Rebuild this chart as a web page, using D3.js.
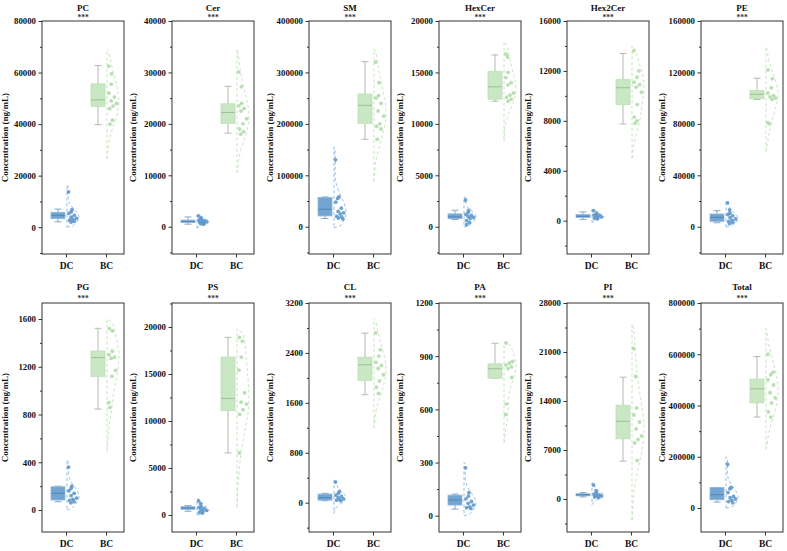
<!DOCTYPE html>
<html>
<head>
<meta charset="utf-8">
<script src="https://cdn.jsdelivr.net/npm/d3@7"></script>
<style>
  body { margin: 0; background: #fff; }
  svg text { font-family: "Liberation Serif", "Times New Roman", serif; font-weight: bold; }
</style>
</head>
<body>
<svg id="chart" width="787" height="551"></svg>
<script>
// lipid classes, one panel each
const lipids = ["PC", "Cer", "SM", "HexCer", "Hex2Cer", "PE", "PG", "PS", "CL", "PA", "PI", "Total"];
const groups = ["DC", "BC"];

// y axis range and major tick step per panel
const yRanges = [[-10400, 80000], [-5300, 40000], [-53000, 400000], [-2650, 20000], [-2670, 16000], [-21200, 160000],
                 [-184, 1734], [-1810, 22550], [-470, 3200], [-92, 1200], [-4714, 28000], [-93700, 800000]];
const tickSteps = [20000, 10000, 100000, 5000, 4000, 40000, 400, 5000, 800, 300, 7000, 200000];

// box stats: [lower whisker, q1, median, q3, upper whisker]
const boxDC = [[2100, 3300, 4600, 5800, 7000], [500, 800, 1000, 1300, 1900], [16000, 21000, 34000, 57000, 58000],
               [700, 780, 950, 1250, 1600], [100, 250, 350, 500, 700], [3100, 4200, 7300, 9900, 12500],
               [70, 84, 140, 195, 200], [400, 600, 750, 880, 1000], [30, 40, 80, 138, 150],
               [37, 60, 88, 116, 122], [300, 450, 600, 750, 900], [23000, 32000, 52000, 80000, 80000]];
const boxBC = [[39800, 46800, 49400, 55600, 62700], [18200, 20100, 22200, 23900, 27300], [170000, 201000, 236000, 258000, 321000],
               [12200, 12400, 13600, 15100, 16700], [7750, 9300, 10650, 11300, 13400], [99000, 99500, 103000, 106000, 115500],
               [846, 1117, 1277, 1332, 1522], [6600, 11100, 12400, 16800, 18900], [1730, 1960, 2210, 2332, 2716],
               [776, 776, 829, 857, 973], [5400, 8600, 11100, 13400, 17400], [355000, 410000, 465000, 503000, 591000]];

// individual samples
const pointsDC = [
  [13700, 6800, 6000, 5400, 4600, 3900, 3400, 3000, 2700, 2300, 2000],
  [2100, 1700, 1500, 1300, 1200, 1100, 1000, 900, 800, 700, 600, 500],
  [130000, 58000, 55000, 48000, 36000, 30000, 27000, 25000, 20000, 19000, 17000, 15000],
  [2600, 1600, 1400, 1200, 1100, 1000, 900, 800, 600, 400, 200],
  [800, 600, 500, 450, 400, 350, 300, 250, 200, 150],
  [18500, 13000, 10500, 9500, 8500, 7000, 6000, 5000, 4000, 3500, 2500],
  [360, 200, 180, 160, 140, 120, 100, 90, 80, 70, 60],
  [1500, 1200, 900, 800, 700, 600, 500, 400, 300, 200],
  [330, 180, 150, 120, 100, 80, 60, 50, 40, 30],
  [270, 130, 110, 95, 80, 70, 60, 50, 45, 40],
  [2000, 1200, 900, 700, 600, 500, 450, 400, 300, 200],
  [170000, 80000, 75000, 60000, 45000, 40000, 35000, 30000, 25000, 20000]
];
const pointsBC = [
  [62500, 59500, 55500, 52000, 50500, 49000, 48000, 47000, 46000, 41500, 40000],
  [30100, 27200, 24000, 23500, 23000, 22500, 21000, 20000, 19000, 18500, 18000],
  [320000, 280000, 255000, 250000, 240000, 225000, 215000, 200000, 195000, 190000, 170000],
  [16800, 16500, 15000, 14500, 14000, 13800, 13000, 12800, 12600, 12400, 12200],
  [13600, 12000, 11500, 11100, 10900, 10700, 10300, 9300, 8300, 8000, 7800],
  [122000, 115000, 108000, 104000, 102000, 101000, 100000, 99000, 81000, 80000],
  [1520, 1500, 1330, 1300, 1280, 1270, 1170, 1120, 900, 860],
  [18900, 18500, 16800, 15400, 13000, 12000, 11800, 11200, 10700, 6600],
  [2720, 2450, 2350, 2250, 2200, 2150, 2050, 1950, 1850, 1750],
  [975, 870, 860, 850, 840, 830, 780, 630, 570],
  [21500, 17500, 13000, 12000, 11000, 10000, 9000, 8500, 8000, 5500],
  [600000, 530000, 520000, 500000, 480000, 450000, 430000, 410000, 375000, 355000]
];

// violin extents [low, high]
const violinDC = [[0, 16500], [-300, 2300], [-2000, 155000], [0, 2900], [-150, 900], [0, 20000],
                  [0, 420], [0, 1700], [-170, 380], [0, 300], [-800, 2300], [0, 200000]];
const violinBC = [[26500, 69000], [10500, 34500], [88000, 345000], [8300, 18000], [5000, 14000], [58000, 140000],
                  [490, 1600], [800, 19800], [1200, 2950], [410, 980], [-3000, 25000], [230000, 700000]];

const colors = {
  DC: { box: "#72a5d2", edge: "#92b8dc", line: "#8aa6c2", med: "#5288b9", pt: "#5f98cc", vio: "#86b3dc" },
  BC: { box: "#c9e7c3", edge: "#bcdfb5", line: "#b0bcae", med: "#9dc097", pt: "#b0dba8", vio: "#bfe1b8" }
};

const svg = d3.select("#chart");
const frameLefts = [42, 172, 309, 439, 567, 701];
const frameW = 82;
const rows = [{ top: 21, bottom: 254, title: 10.5, stars: 20 }, { top: 303, bottom: 532, title: 290, stars: 300.5 }];
const vioW = 12;

function gauss(u) { return Math.exp(-0.5 * u * u) / Math.sqrt(2 * Math.PI); }

lipids.forEach((name, i) => {
  const row = rows[Math.floor(i / 6)];
  const left = frameLefts[i % 6];
  const g = svg.append("g");

  const y = d3.scaleLinear().domain(yRanges[i]).range([row.bottom, row.top]);
  const x = d3.scalePoint().domain(groups).range([left + 24, left + 64]);

  const step = tickSteps[i];
  const hi = yRanges[i][1];
  const majors = d3.range(0, hi * 1.0001, step);
  const minors = d3.range(Math.ceil(yRanges[i][0] / (step / 2)) * step / 2, hi * 1.0001, step / 2)
    .filter(v => Math.abs(v / step - Math.round(v / step)) > 1e-6);

  // violins, boxes, points
  groups.forEach(grp => {
    const c = colors[grp];
    const pts = grp === "DC" ? pointsDC[i] : pointsBC[i];
    const box = grp === "DC" ? boxDC[i] : boxBC[i];
    const ext = grp === "DC" ? violinDC[i] : violinBC[i];
    const cx = x(grp);
    const base = cx + 1;

    const sd = d3.deviation(pts);
    const bw = Math.max(1.06 * sd * Math.pow(pts.length, -0.2), (ext[1] - ext[0]) / 7);
    const densAt = v => d3.mean(pts, p => gauss((v - p) / bw)) / bw;
    const grid = d3.range(0, 41).map(k => ext[0] + (ext[1] - ext[0]) * k / 40);
    const dens = grid.map(densAt);
    const w = d3.scaleLinear().domain([0, d3.max(dens)]).range([0, vioW]);
    const prof = grid.map((v, k) => [v, (k === 0 || k === grid.length - 1) ? 0 : dens[k]]);

    const outline = d3.line()
      .curve(d3.curveBasis)
      .x(d => base + w(d[1]))
      .y(d => y(d[0]));
    g.append("path")
      .attr("d", outline(prof) + `L${base},${y(ext[0])}Z`)
      .attr("fill", "none")
      .attr("stroke", c.vio)
      .attr("stroke-width", 0.9)
      .attr("stroke-dasharray", "3,2.5");

    const bx0 = cx - 15, bx1 = cx - 1, bmid = (bx0 + bx1) / 2;
    // whiskers
    g.append("line").attr("x1", bmid).attr("x2", bmid).attr("y1", y(box[0])).attr("y2", y(box[4]))
      .attr("stroke", c.line).attr("stroke-width", 1);
    [box[0], box[4]].forEach(v => {
      g.append("line").attr("x1", bmid - 3.5).attr("x2", bmid + 3.5).attr("y1", y(v)).attr("y2", y(v))
        .attr("stroke", c.line).attr("stroke-width", 1);
    });
    g.append("rect")
      .attr("x", bx0).attr("width", bx1 - bx0)
      .attr("y", y(box[3])).attr("height", Math.max(1, y(box[1]) - y(box[3])))
      .attr("fill", c.box).attr("stroke", c.edge).attr("stroke-width", 0.8);
    g.append("line").attr("x1", bx0).attr("x2", bx1).attr("y1", y(box[2])).attr("y2", y(box[2]))
      .attr("stroke", c.med).attr("stroke-width", 1);

    // points sit inside the half violin
    pts.forEach((v, k) => {
      const frac = (k * 0.618034 + 0.2) % 1;
      const ww = Math.max(3, w(densAt(v)));
      g.append("circle")
        .attr("cx", base + 1.5 + frac * (ww - 3))
        .attr("cy", y(v))
        .attr("r", 1.9)
        .attr("fill", c.pt)
        .attr("opacity", 0.9);
    });
  });

  // frame
  g.append("rect")
    .attr("x", left).attr("y", row.top)
    .attr("width", frameW).attr("height", row.bottom - row.top)
    .attr("fill", "none").attr("stroke", "#333").attr("stroke-width", 1);

  // y axis
  const ya = g.append("g")
    .attr("transform", `translate(${left},0)`)
    .call(d3.axisLeft(y).tickValues(majors).tickSize(3.5).tickPadding(2.5).tickFormat(d3.format("d")));
  ya.select(".domain").remove();
  ya.selectAll("line").attr("stroke", "#333");
  ya.selectAll("text").attr("font-size", 8.8).attr("fill", "#111");
  const ym = g.append("g")
    .attr("transform", `translate(${left},0)`)
    .call(d3.axisLeft(y).tickValues(minors).tickSize(2).tickFormat(""));
  ym.select(".domain").remove();
  ym.selectAll("line").attr("stroke", "#333");

  // x axis
  const xa = g.append("g")
    .attr("transform", `translate(0,${row.bottom})`)
    .call(d3.axisBottom(x).tickSize(3.5).tickPadding(4.5));
  xa.select(".domain").remove();
  xa.selectAll("line").attr("stroke", "#333");
  xa.selectAll("text").attr("font-size", 9.5).attr("fill", "#111");

  // y label
  const ly = (row.top + row.bottom) / 2;
  const lx = left - (i % 6 === 0 ? 36 : 38);
  g.append("text")
    .attr("transform", `translate(${lx},${ly}) rotate(-90)`)
    .attr("text-anchor", "middle")
    .attr("dominant-baseline", "middle")
    .attr("font-size", 9)
    .attr("fill", "#111")
    .text("Concentration (ng/mL)");

  // title + significance
  const tx = left + frameW / 2;
  g.append("text").attr("x", tx).attr("y", row.title)
    .attr("text-anchor", "middle").attr("font-size", 9).attr("fill", "#111").text(name);
  g.append("text").attr("x", tx).attr("y", row.stars)
    .attr("text-anchor", "middle").attr("font-size", 7.5).attr("fill", "#333").text("***");
});
</script>
</body>
</html>
